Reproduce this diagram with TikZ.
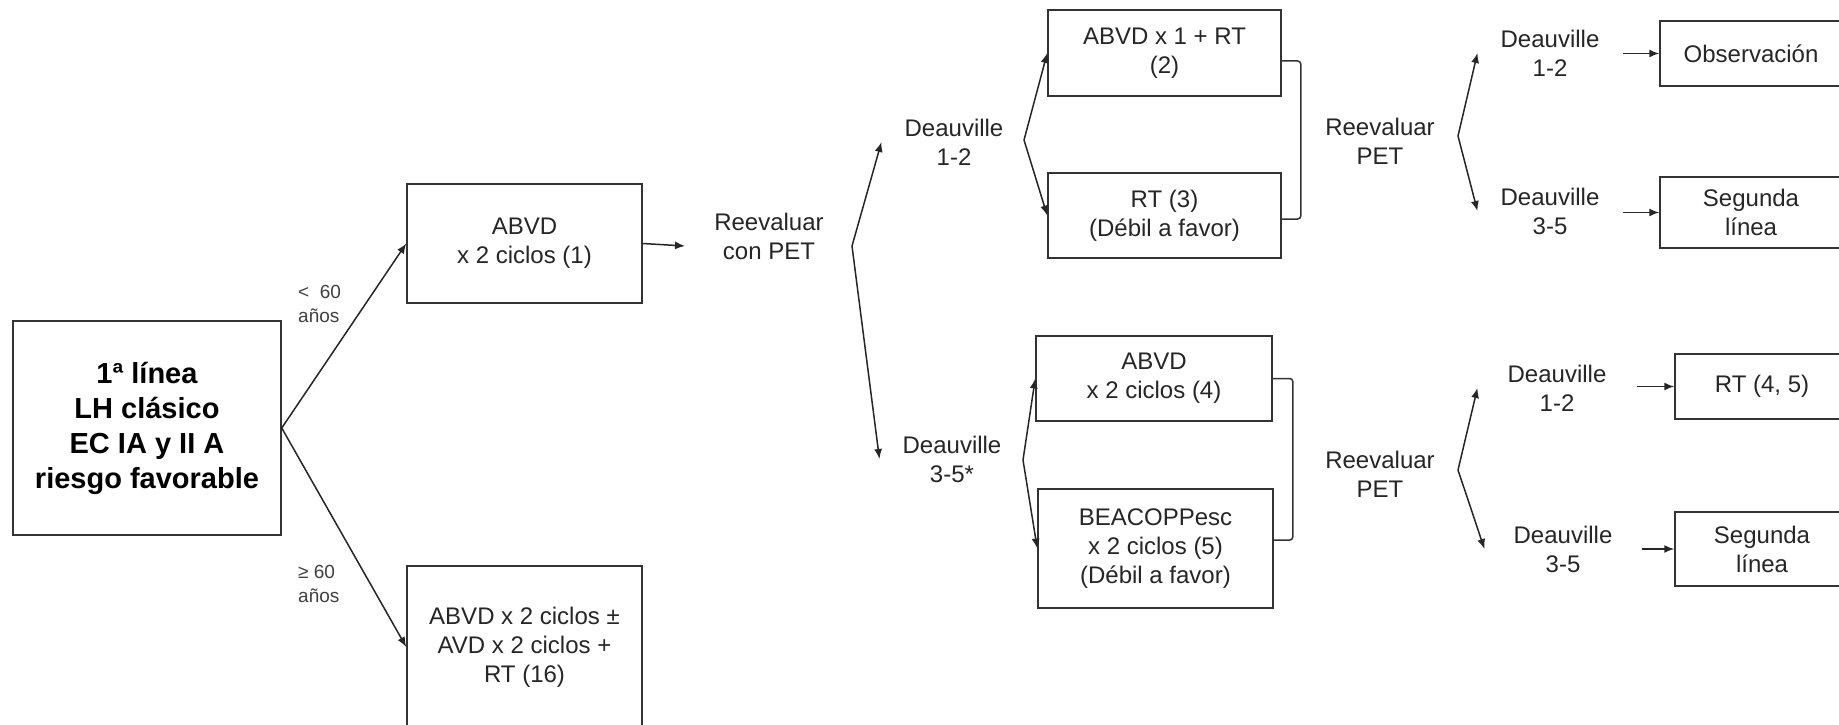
\documentclass[tikz,border=0pt]{standalone}
\usepackage{fontspec}
\setmainfont{Liberation Sans}
\usetikzlibrary{arrows.meta,calc}
\begin{document}
\begin{tikzpicture}[x=1pt,y=-1pt,
  box/.style={draw=black!80, line width=1.5pt, rectangle, align=center, inner sep=0pt,
    text=black!85, font=\fontsize{24}{29}\selectfont},
  lbl/.style={align=center, inner ysep=2pt, inner xsep=23pt, text=black!85,
    font=\fontsize{24}{29}\selectfont},
  small/.style={align=left, inner sep=0pt, anchor=west, text=black!75,
    font=\fontsize{19}{24}\selectfont},
  arr/.style={line width=1.5pt, draw=black!85, -{Latex[length=10pt,width=8pt]}},
  brk/.style={line width=1.5pt, draw=black!80, rounded corners=3pt}]
\useasboundingbox (0,0) rectangle (1839,725);
\fill[white] (0,0) rectangle (1839,725);
\clip (0,0) rectangle (1839,725);

% left part
\node[box, font=\bfseries\fontsize{29}{35}\selectfont, text=black,
      minimum width=268pt, minimum height=214pt] (main) at (147,428)
      {1ª línea\\LH clásico\\EC IA y II A\\riesgo favorable};
\node[box, minimum width=235pt, minimum height=119pt] (b1) at (524.5,243.5) {ABVD\\x 2 ciclos (1)};
\node[box, minimum width=235pt, minimum height=162pt] (b16) at (524.5,647)
      {ABVD x 2 ciclos ±\\AVD x 2 ciclos +\\RT (16)};
\node[small] (lt) at (298,304) {<\ \ 60\\años};
\node[small] (ge) at (298,584) {≥ 60\\años};

\node[lbl] (r1) at (769,236) {Reevaluar\\con PET};
\coordinate (a1) at (685,246);
\coordinate (k1) at (852,246);
\node[lbl] (d1) at (954,142) {Deauville\\1-2};
\node[lbl] (d2) at (952,459) {Deauville\\3-5*};

% middle boxes
\coordinate (k2) at (1024,140);
\node[box, minimum width=233pt, minimum height=86pt] (b2) at (1164.5,53) {ABVD x 1 + RT\\(2)};
\node[box, minimum width=233pt, minimum height=85pt] (b3) at (1164.5,215.5) {RT (3)\\(Débil a favor)};
\coordinate (k3) at (1023,460);
\node[box, minimum width=236pt, minimum height=85pt] (b4) at (1154,378.5) {ABVD\\x 2 ciclos (4)};
\node[box, minimum width=235pt, minimum height=119pt] (b5) at (1155.5,548.5)
      {BEACOPPesc\\x 2 ciclos (5)\\(Débil a favor)};

% right part
\node[lbl] (r2) at (1380,141) {Reevaluar\\PET};
\node[lbl] (r3) at (1380,474) {Reevaluar\\PET};
\coordinate (k4) at (1458,136);
\coordinate (k5) at (1458,470);
\node[lbl] (d3) at (1550,53) {Deauville\\1-2};
\node[lbl] (d4) at (1550,211) {Deauville\\3-5};
\node[lbl, inner xsep=30pt] (d5) at (1557,388) {Deauville\\1-2};
\node[lbl, inner xsep=29pt] (d6) at (1563,549) {Deauville\\3-5};
\node[box, minimum width=182pt, minimum height=65pt] (o1) at (1751,53.5) {Observación};
\node[box, minimum width=182pt, minimum height=71pt] (s1) at (1751,212.5) {Segunda\\línea};
\node[box, minimum width=174pt, minimum height=65pt] (rt) at (1762,386.5) {RT (4, 5)};
\node[box, minimum width=174pt, minimum height=74pt] (s2) at (1762,549) {Segunda\\línea};

% connectors
\draw[arr] (main.east) -- (b1.west);
\draw[arr] (main.east) -- (b16.west);
\draw[arr] (b1.east) -- (a1);
\draw[arr] (k1) -- (d1.west);
\draw[arr] (k1) -- (d2.west);
\draw[arr] (k2) -- (b2.west);
\draw[arr] (k2) -- (b3.west);
\draw[arr] (k3) -- (b4.west);
\draw[arr] (k3) -- (b5.west);
\draw[brk] ([yshift=-8pt]b2.east) -- ++(19,0) |- ([yshift=-3.5pt]b3.east);
\draw[brk] (b4.east) -- ++(20,0) |- ([yshift=8.5pt]b5.east);
\draw[arr] (k4) -- (d3.west);
\draw[arr] (k4) -- (d4.west);
\draw[arr] (d3.east |- o1.west) -- (o1.west);
\draw[arr] (d4.east |- s1.west) -- (s1.west);
\draw[arr] (k5) -- (d5.west);
\draw[arr] (k5) -- (d6.west);
\draw[arr] (d5.east |- rt.west) -- (rt.west);
\draw[arr] (d6.east |- s2.west) -- (s2.west);
\end{tikzpicture}
\end{document}
